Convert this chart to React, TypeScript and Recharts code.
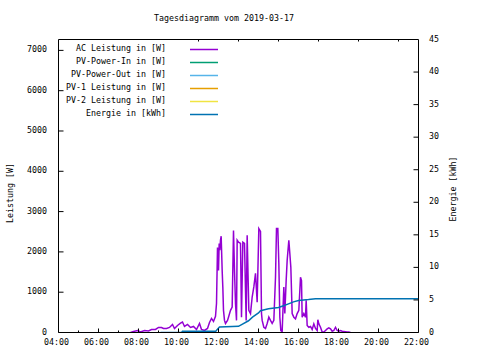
import { ComposedChart, Line, XAxis, YAxis } from 'recharts'

const chartTitle = 'Tagesdiagramm vom 2019-03-17'
const leftAxisLabel = 'Leistung [W]'
const rightAxisLabel = 'Energie [kWh]'

// legend entries, in gnuplot order
const seriesNames = [
  'AC Leistung in [W]',
  'PV-Power-In in [W]',
  'PV-Power-Out in [W]',
  'PV-1 Leistung in [W]',
  'PV-2 Leistung in [W]',
  'Energie in [kWh]',
]
const seriesColors = ['#9400d3', '#009e73', '#56b4e9', '#e69f00', '#f0e442', '#0072b2']

const hourTicks = [4, 5, 6, 7, 8, 9, 10, 11, 12, 13, 14, 15, 16, 17, 18, 19, 20, 21, 22]
const topTicks = [10, 11, 12, 13, 14, 15, 16, 17, 18, 19, 20, 21]
const powerTicks = [0, 1000, 2000, 3000, 4000, 5000, 6000, 7000]
const energyTicks = [0, 5, 10, 15, 20, 25, 30, 35, 40, 45]

// AC Leistung [W]
const acSamples: [string, number][] = [
  ['07:36', 0], ['07:45', 25], ['07:57', 50], ['08:06', 12], ['08:18', 50], ['08:30', 37],
  ['08:39', 75], ['08:51', 75], ['09:00', 125], ['09:09', 125], ['09:15', 100], ['09:24', 100],
  ['09:33', 125], ['09:42', 200], ['09:48', 100], ['09:57', 175], ['10:06', 230], ['10:12', 260],
  ['10:18', 150], ['10:27', 200], ['10:36', 125], ['10:45', 150], ['10:54', 75], ['11:03', 225],
  ['11:09', 75], ['11:18', 50], ['11:27', 100], ['11:33', 250], ['11:39', 350], ['11:45', 275],
  ['11:51', 400], ['11:54', 720], ['11:57', 2110], ['12:00', 1540], ['12:02', 2210], ['12:04', 2040],
  ['12:06', 2290], ['12:08', 2390], ['12:11', 1540], ['12:13', 1120], ['12:15', 550], ['12:18', 300],
  ['12:21', 225], ['12:27', 300], ['12:30', 380], ['12:36', 550], ['12:41', 630], ['12:45', 2530],
  ['12:48', 1540], ['12:51', 720], ['12:54', 300], ['12:56', 2290], ['13:00', 2240], ['13:06', 2210],
  ['13:09', 380], ['13:13', 2240], ['13:18', 2210], ['13:23', 300], ['13:26', 2410], ['13:31', 550],
  ['13:36', 470], ['13:41', 880], ['13:46', 1130], ['13:51', 1470], ['13:56', 750], ['14:01', 2580],
  ['14:06', 2510], ['14:09', 470], ['14:11', 300], ['14:16', 130], ['14:21', 100], ['14:26', 225],
  ['14:31', 380], ['14:36', 300], ['14:41', 225], ['14:46', 300], ['14:51', 1370], ['14:54', 2580],
  ['14:58', 2580], ['15:01', 1710], ['15:04', 380], ['15:07', 50], ['15:11', 25], ['15:16', 1130],
  ['15:19', 470], ['15:23', 1290], ['15:26', 1790], ['15:31', 2290], ['15:34', 1960], ['15:37', 1620],
  ['15:41', 470], ['15:46', 380], ['15:51', 340], ['15:56', 470], ['16:01', 550], ['16:06', 1370],
  ['16:09', 1290], ['16:11', 380], ['16:16', 470], ['16:21', 380], ['16:23', 800], ['16:26', 175],
  ['16:31', 130], ['16:36', 150], ['16:41', 75], ['16:46', 215], ['16:51', 100], ['16:56', 50],
  ['16:58', 315], ['17:01', 215], ['17:06', 130], ['17:11', 10], ['17:16', 10], ['17:21', 50],
  ['17:26', 90], ['17:31', 115], ['17:36', 90], ['17:41', 30], ['17:46', 50], ['17:51', 130],
  ['17:56', 50], ['18:01', 30], ['18:06', 50], ['18:11', 30], ['18:16', 25], ['18:26', 15],
  ['18:31', 10], ['18:36', 0],
]

// Energie [kWh]
const energySamples: [string, number][] = [
  ['09:06', 0], ['10:09', 0], ['10:12', 0.2], ['11:52', 0.2], ['11:55', 0.4], ['12:03', 0.85],
  ['13:00', 0.95], ['13:12', 1.3], ['13:30', 1.8], ['13:42', 2.35], ['14:00', 3.0], ['14:06', 3.35],
  ['14:30', 3.65], ['15:00', 3.85], ['15:15', 4.1], ['15:30', 4.4], ['15:45', 4.7], ['16:00', 4.9],
  ['16:30', 5.05], ['16:51', 5.18], ['22:00', 5.18],
]

const toHours = (s: string) => {
  const [h, m] = s.split(':').map(Number)
  return h + m / 60
}
const acData = acSamples.map(([t, v]) => ({ t: toHours(t), ac: v }))
const energyData = energySamples.map(([t, v]) => ({ t: toHours(t), energie: v }))

const FONT = 'DejaVu Sans Mono'
const FS = 8.3
const pad = (n: number) => (n < 10 ? '0' + n : '' + n)

function BottomTick(props: any) {
  const { x, y, payload } = props
  const major = payload.value % 2 === 0
  return (
    <g>
      <line x1={x} x2={x} y1={y} y2={y - (major ? 4 : 2)} stroke="#000" />
      {major && (
        <text x={x - 2} y={y + 12.5} textAnchor="middle" fontFamily={FONT} fontSize={FS} fill="#000">
          {pad(payload.value)}:00
        </text>
      )}
    </g>
  )
}

function TopTick(props: any) {
  const { x, y, payload } = props
  const major = payload.value % 2 === 0
  return <line x1={x} x2={x} y1={y} y2={y + (major ? 4 : 2)} stroke="#000" />
}

function LeftTick(props: any) {
  const { x, y, payload } = props
  return (
    <g>
      {payload.value > 0 && <line x1={x} x2={x + 5} y1={y} y2={y} stroke="#000" />}
      <text x={x - 11.5} y={y + 2} textAnchor="end" fontFamily={FONT} fontSize={FS} fill="#000">
        {payload.value}
      </text>
    </g>
  )
}

function RightTick(props: any) {
  const { x, y, payload } = props
  return (
    <g>
      {payload.value > 0 && payload.value < 45 && <line x1={x} x2={x - 5} y1={y} y2={y} stroke="#000" />}
      <text x={x + 10.5} y={y + 2} textAnchor="start" fontFamily={FONT} fontSize={FS} fill="#000">
        {payload.value}
      </text>
    </g>
  )
}

export default function App() {
  return (
    <div style={{ position: 'absolute', left: 0, top: 0, width: 480, height: 360, background: '#fff' }}>
      <ComposedChart width={480} height={360} margin={{ top: 0, right: 0, bottom: 0, left: 0 }}>
        <XAxis
          xAxisId="b"
          dataKey="t"
          type="number"
          domain={[4, 22]}
          ticks={hourTicks}
          height={27.5}
          tickSize={0}
          tickMargin={0}
          tickLine={false}
          tick={<BottomTick />}
          axisLine={{ stroke: '#000' }}
          allowDataOverflow
        />
        <XAxis
          xAxisId="top"
          dataKey="t"
          type="number"
          orientation="top"
          domain={[4, 22]}
          ticks={topTicks}
          height={39.5}
          tickSize={0}
          tickMargin={0}
          tickLine={false}
          tick={<TopTick />}
          axisLine={{ stroke: '#000' }}
          allowDataOverflow
        />
        <YAxis
          yAxisId="w"
          type="number"
          domain={[0, 7270]}
          ticks={powerTicks}
          width={58.5}
          tickSize={0}
          tickMargin={0}
          tickLine={false}
          tick={<LeftTick />}
          axisLine={{ stroke: '#000' }}
          allowDataOverflow
        />
        <YAxis
          yAxisId="e"
          type="number"
          orientation="right"
          domain={[0, 45]}
          ticks={energyTicks}
          width={61.5}
          tickSize={0}
          tickMargin={0}
          tickLine={false}
          tick={<RightTick />}
          axisLine={{ stroke: '#000' }}
          allowDataOverflow
        />
        <Line
          xAxisId="b"
          yAxisId="w"
          data={acData}
          dataKey="ac"
          type="linear"
          stroke={seriesColors[0]}
          strokeWidth={1.5}
          dot={false}
          isAnimationActive={false}
        />
        <Line
          xAxisId="b"
          yAxisId="e"
          data={energyData}
          dataKey="energie"
          type="linear"
          stroke={seriesColors[5]}
          strokeWidth={1.5}
          dot={false}
          isAnimationActive={false}
        />
      </ComposedChart>
      <svg
        width={480}
        height={360}
        style={{ position: 'absolute', left: 0, top: 0, pointerEvents: 'none' }}
        fontFamily={FONT}
        fontSize={FS}
      >
        <text x={224} y={21} textAnchor="middle" fill="#000">
          {chartTitle}
        </text>
        <text x={0} y={0} textAnchor="middle" fill="#000" transform="translate(12.5 193) rotate(-90)">
          {leftAxisLabel}
        </text>
        <text x={0} y={0} textAnchor="middle" fill="#000" transform="translate(455.5 189) rotate(-90)">
          {rightAxisLabel}
        </text>
        {seriesNames.map((name, i) => (
          <g key={name}>
            <text x={166} y={51 + 13 * i} textAnchor="end" fill="#000">
              {name}
            </text>
            <line x1={190} x2={218} y1={49.5 + 13 * i} y2={49.5 + 13 * i} stroke={seriesColors[i]} strokeWidth={1.5} />
          </g>
        ))}
      </svg>
    </div>
  )
}
